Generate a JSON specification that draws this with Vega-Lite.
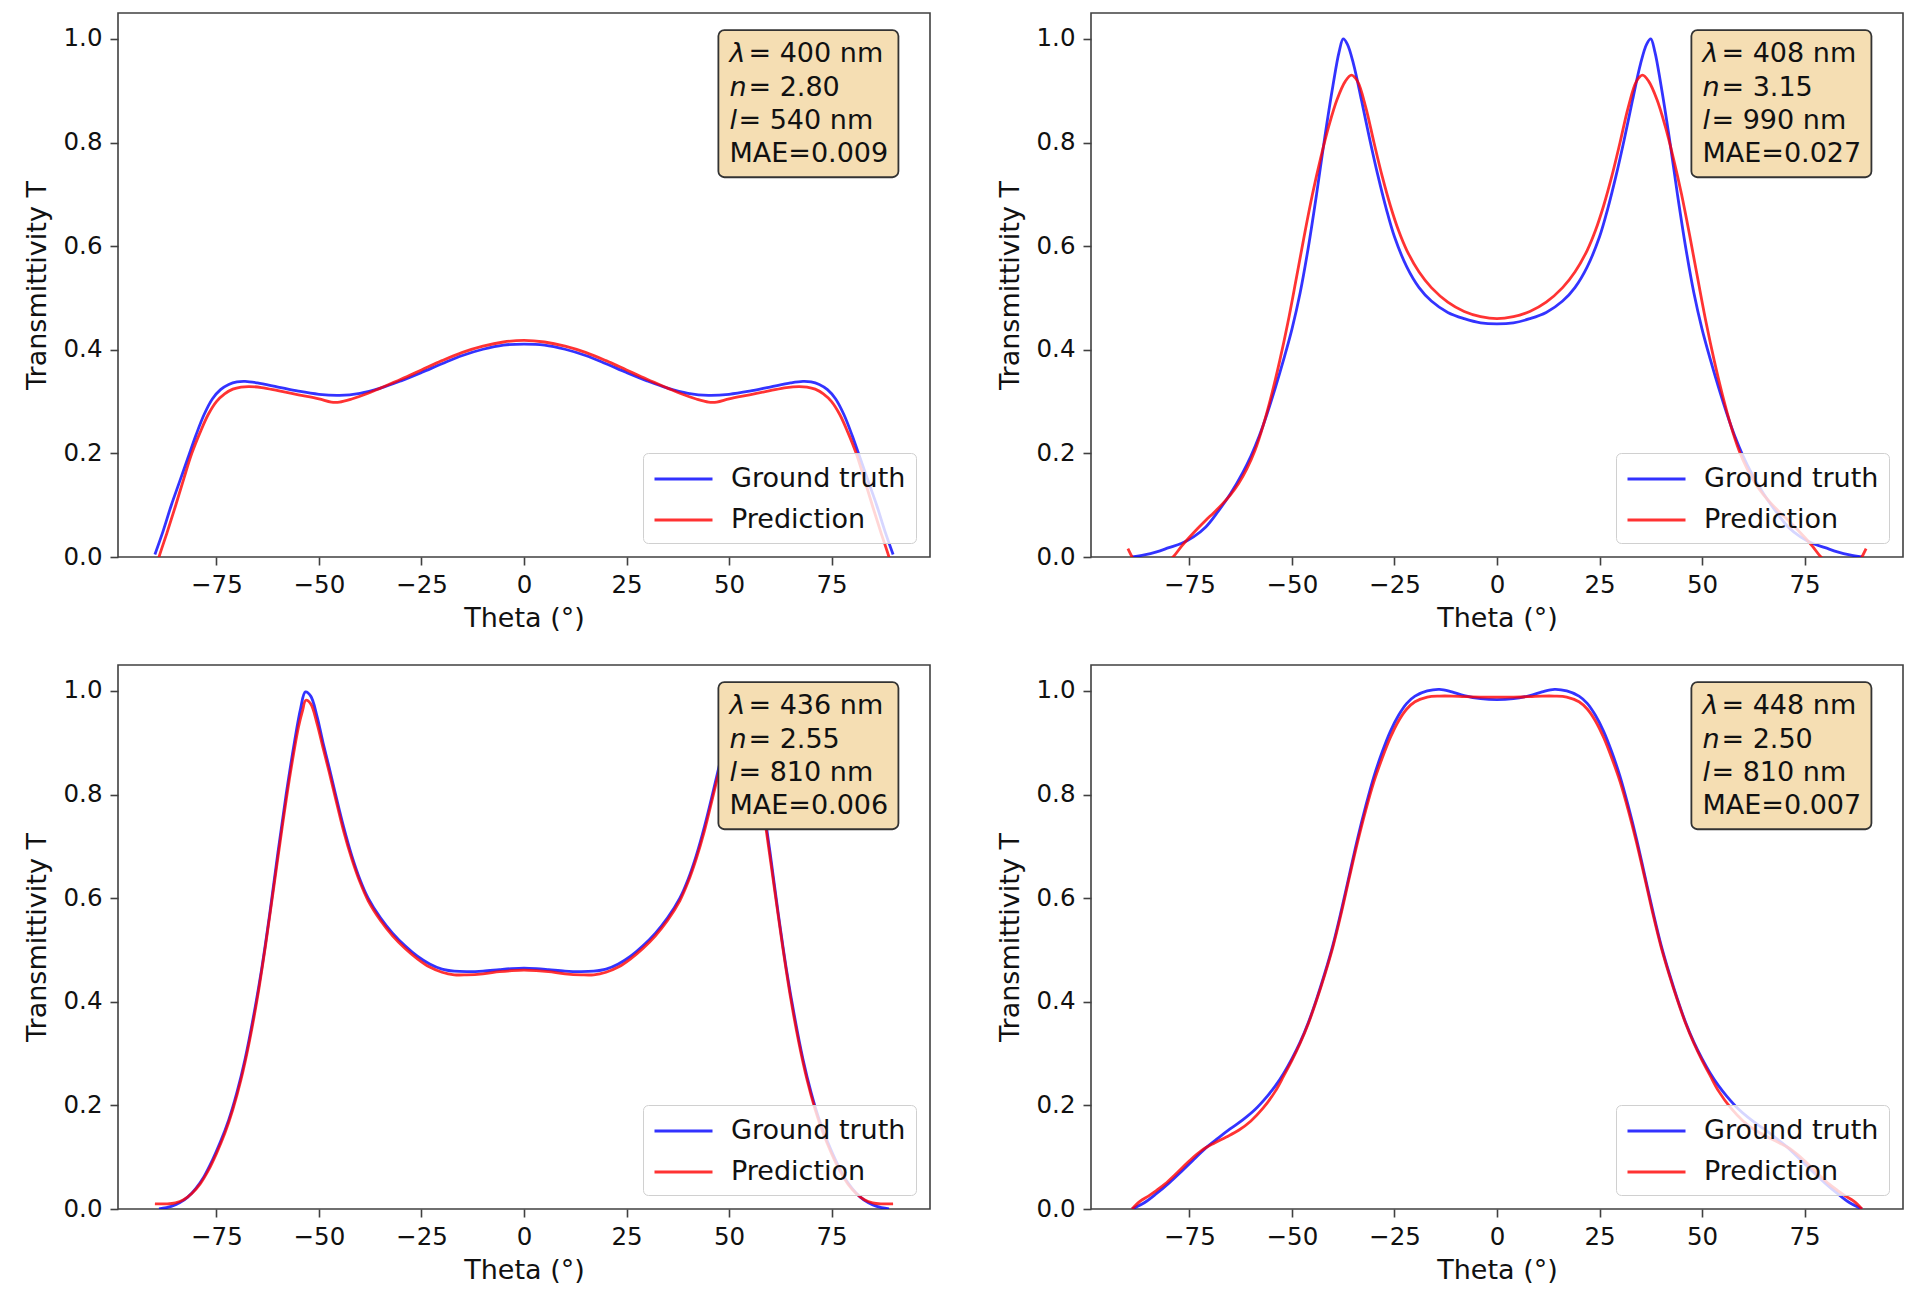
{
  "$schema": "https://vega.github.io/schema/vega-lite/v6.json",
  "background": "white",
  "padding": {"left": 22, "top": 12, "right": 5, "bottom": 5},
  "datasets": {
    "notes": [
      {"panel": 1, "sym": ["λ", "n", "l"], "eq12": ["= 400 nm", "= 2.80"], "eq3": "= 540 nm", "mae": "MAE=0.009"},
      {"panel": 2, "sym": ["λ", "n", "l"], "eq12": ["= 408 nm", "= 3.15"], "eq3": "= 990 nm", "mae": "MAE=0.027"},
      {"panel": 3, "sym": ["λ", "n", "l"], "eq12": ["= 436 nm", "= 2.55"], "eq3": "= 810 nm", "mae": "MAE=0.006"},
      {"panel": 4, "sym": ["λ", "n", "l"], "eq12": ["= 448 nm", "= 2.50"], "eq3": "= 810 nm", "mae": "MAE=0.007"}
    ],
    "curves": [
      {"panel":1,"series":"Ground truth","theta":-90,"T":0.005},
      {"panel":1,"series":"Ground truth","theta":-88,"T":0.05},
      {"panel":1,"series":"Ground truth","theta":-86,"T":0.1},
      {"panel":1,"series":"Ground truth","theta":-84,"T":0.145},
      {"panel":1,"series":"Ground truth","theta":-82,"T":0.19},
      {"panel":1,"series":"Ground truth","theta":-80,"T":0.235},
      {"panel":1,"series":"Ground truth","theta":-78,"T":0.275},
      {"panel":1,"series":"Ground truth","theta":-76,"T":0.305},
      {"panel":1,"series":"Ground truth","theta":-74,"T":0.323},
      {"panel":1,"series":"Ground truth","theta":-72,"T":0.333},
      {"panel":1,"series":"Ground truth","theta":-70,"T":0.338},
      {"panel":1,"series":"Ground truth","theta":-68,"T":0.339},
      {"panel":1,"series":"Ground truth","theta":-65,"T":0.336},
      {"panel":1,"series":"Ground truth","theta":-60,"T":0.328},
      {"panel":1,"series":"Ground truth","theta":-55,"T":0.32},
      {"panel":1,"series":"Ground truth","theta":-50,"T":0.314},
      {"panel":1,"series":"Ground truth","theta":-45,"T":0.312},
      {"panel":1,"series":"Ground truth","theta":-40,"T":0.316},
      {"panel":1,"series":"Ground truth","theta":-35,"T":0.326},
      {"panel":1,"series":"Ground truth","theta":-30,"T":0.34},
      {"panel":1,"series":"Ground truth","theta":-25,"T":0.356},
      {"panel":1,"series":"Ground truth","theta":-20,"T":0.373},
      {"panel":1,"series":"Ground truth","theta":-15,"T":0.389},
      {"panel":1,"series":"Ground truth","theta":-10,"T":0.401},
      {"panel":1,"series":"Ground truth","theta":-5,"T":0.409},
      {"panel":1,"series":"Ground truth","theta":0,"T":0.411},
      {"panel":1,"series":"Ground truth","theta":5,"T":0.409},
      {"panel":1,"series":"Ground truth","theta":10,"T":0.401},
      {"panel":1,"series":"Ground truth","theta":15,"T":0.389},
      {"panel":1,"series":"Ground truth","theta":20,"T":0.373},
      {"panel":1,"series":"Ground truth","theta":25,"T":0.356},
      {"panel":1,"series":"Ground truth","theta":30,"T":0.34},
      {"panel":1,"series":"Ground truth","theta":35,"T":0.326},
      {"panel":1,"series":"Ground truth","theta":40,"T":0.316},
      {"panel":1,"series":"Ground truth","theta":45,"T":0.312},
      {"panel":1,"series":"Ground truth","theta":50,"T":0.314},
      {"panel":1,"series":"Ground truth","theta":55,"T":0.32},
      {"panel":1,"series":"Ground truth","theta":60,"T":0.328},
      {"panel":1,"series":"Ground truth","theta":65,"T":0.336},
      {"panel":1,"series":"Ground truth","theta":68,"T":0.339},
      {"panel":1,"series":"Ground truth","theta":70,"T":0.338},
      {"panel":1,"series":"Ground truth","theta":72,"T":0.333},
      {"panel":1,"series":"Ground truth","theta":74,"T":0.323},
      {"panel":1,"series":"Ground truth","theta":76,"T":0.305},
      {"panel":1,"series":"Ground truth","theta":78,"T":0.275},
      {"panel":1,"series":"Ground truth","theta":80,"T":0.235},
      {"panel":1,"series":"Ground truth","theta":82,"T":0.19},
      {"panel":1,"series":"Ground truth","theta":84,"T":0.145},
      {"panel":1,"series":"Ground truth","theta":86,"T":0.1},
      {"panel":1,"series":"Ground truth","theta":88,"T":0.05},
      {"panel":1,"series":"Ground truth","theta":90,"T":0.005},

      {"panel":1,"series":"Prediction","theta":-90,"T":-0.03},
      {"panel":1,"series":"Prediction","theta":-89,"T":0.0},
      {"panel":1,"series":"Prediction","theta":-87,"T":0.048},
      {"panel":1,"series":"Prediction","theta":-85,"T":0.098},
      {"panel":1,"series":"Prediction","theta":-83,"T":0.15},
      {"panel":1,"series":"Prediction","theta":-81,"T":0.2},
      {"panel":1,"series":"Prediction","theta":-79,"T":0.24},
      {"panel":1,"series":"Prediction","theta":-77,"T":0.275},
      {"panel":1,"series":"Prediction","theta":-75,"T":0.3},
      {"panel":1,"series":"Prediction","theta":-73,"T":0.315},
      {"panel":1,"series":"Prediction","theta":-71,"T":0.324},
      {"panel":1,"series":"Prediction","theta":-69,"T":0.328},
      {"panel":1,"series":"Prediction","theta":-67,"T":0.329},
      {"panel":1,"series":"Prediction","theta":-64,"T":0.327},
      {"panel":1,"series":"Prediction","theta":-60,"T":0.321},
      {"panel":1,"series":"Prediction","theta":-55,"T":0.313},
      {"panel":1,"series":"Prediction","theta":-50,"T":0.305},
      {"panel":1,"series":"Prediction","theta":-47,"T":0.299},
      {"panel":1,"series":"Prediction","theta":-45,"T":0.299},
      {"panel":1,"series":"Prediction","theta":-42,"T":0.305},
      {"panel":1,"series":"Prediction","theta":-38,"T":0.316},
      {"panel":1,"series":"Prediction","theta":-35,"T":0.326},
      {"panel":1,"series":"Prediction","theta":-30,"T":0.343},
      {"panel":1,"series":"Prediction","theta":-25,"T":0.361},
      {"panel":1,"series":"Prediction","theta":-20,"T":0.379},
      {"panel":1,"series":"Prediction","theta":-15,"T":0.395},
      {"panel":1,"series":"Prediction","theta":-10,"T":0.407},
      {"panel":1,"series":"Prediction","theta":-5,"T":0.415},
      {"panel":1,"series":"Prediction","theta":0,"T":0.418},
      {"panel":1,"series":"Prediction","theta":5,"T":0.415},
      {"panel":1,"series":"Prediction","theta":10,"T":0.407},
      {"panel":1,"series":"Prediction","theta":15,"T":0.395},
      {"panel":1,"series":"Prediction","theta":20,"T":0.379},
      {"panel":1,"series":"Prediction","theta":25,"T":0.361},
      {"panel":1,"series":"Prediction","theta":30,"T":0.343},
      {"panel":1,"series":"Prediction","theta":35,"T":0.326},
      {"panel":1,"series":"Prediction","theta":38,"T":0.316},
      {"panel":1,"series":"Prediction","theta":42,"T":0.305},
      {"panel":1,"series":"Prediction","theta":45,"T":0.299},
      {"panel":1,"series":"Prediction","theta":47,"T":0.299},
      {"panel":1,"series":"Prediction","theta":50,"T":0.305},
      {"panel":1,"series":"Prediction","theta":55,"T":0.313},
      {"panel":1,"series":"Prediction","theta":60,"T":0.321},
      {"panel":1,"series":"Prediction","theta":64,"T":0.327},
      {"panel":1,"series":"Prediction","theta":67,"T":0.329},
      {"panel":1,"series":"Prediction","theta":69,"T":0.328},
      {"panel":1,"series":"Prediction","theta":71,"T":0.324},
      {"panel":1,"series":"Prediction","theta":73,"T":0.315},
      {"panel":1,"series":"Prediction","theta":75,"T":0.3},
      {"panel":1,"series":"Prediction","theta":77,"T":0.275},
      {"panel":1,"series":"Prediction","theta":79,"T":0.24},
      {"panel":1,"series":"Prediction","theta":81,"T":0.2},
      {"panel":1,"series":"Prediction","theta":83,"T":0.15},
      {"panel":1,"series":"Prediction","theta":85,"T":0.098},
      {"panel":1,"series":"Prediction","theta":87,"T":0.048},
      {"panel":1,"series":"Prediction","theta":89,"T":0.0},
      {"panel":1,"series":"Prediction","theta":90,"T":-0.03},

      {"panel":2,"series":"Ground truth","theta":-89,"T":0.0},
      {"panel":2,"series":"Ground truth","theta":-86,"T":0.004},
      {"panel":2,"series":"Ground truth","theta":-83,"T":0.01},
      {"panel":2,"series":"Ground truth","theta":-80,"T":0.018},
      {"panel":2,"series":"Ground truth","theta":-77,"T":0.026},
      {"panel":2,"series":"Ground truth","theta":-74,"T":0.039},
      {"panel":2,"series":"Ground truth","theta":-71,"T":0.058},
      {"panel":2,"series":"Ground truth","theta":-68,"T":0.088},
      {"panel":2,"series":"Ground truth","theta":-65,"T":0.122},
      {"panel":2,"series":"Ground truth","theta":-62,"T":0.163},
      {"panel":2,"series":"Ground truth","theta":-60,"T":0.195},
      {"panel":2,"series":"Ground truth","theta":-58,"T":0.233},
      {"panel":2,"series":"Ground truth","theta":-56,"T":0.278},
      {"panel":2,"series":"Ground truth","theta":-54,"T":0.328},
      {"panel":2,"series":"Ground truth","theta":-52,"T":0.382},
      {"panel":2,"series":"Ground truth","theta":-50,"T":0.44},
      {"panel":2,"series":"Ground truth","theta":-48,"T":0.51},
      {"panel":2,"series":"Ground truth","theta":-46,"T":0.598},
      {"panel":2,"series":"Ground truth","theta":-44,"T":0.7},
      {"panel":2,"series":"Ground truth","theta":-42,"T":0.81},
      {"panel":2,"series":"Ground truth","theta":-40,"T":0.91},
      {"panel":2,"series":"Ground truth","theta":-38.5,"T":0.975},
      {"panel":2,"series":"Ground truth","theta":-37.5,"T":1.0},
      {"panel":2,"series":"Ground truth","theta":-36.5,"T":0.99},
      {"panel":2,"series":"Ground truth","theta":-35,"T":0.952},
      {"panel":2,"series":"Ground truth","theta":-33,"T":0.88},
      {"panel":2,"series":"Ground truth","theta":-31,"T":0.805},
      {"panel":2,"series":"Ground truth","theta":-29,"T":0.735},
      {"panel":2,"series":"Ground truth","theta":-27,"T":0.672},
      {"panel":2,"series":"Ground truth","theta":-25,"T":0.618},
      {"panel":2,"series":"Ground truth","theta":-22,"T":0.56},
      {"panel":2,"series":"Ground truth","theta":-19,"T":0.52},
      {"panel":2,"series":"Ground truth","theta":-16,"T":0.494},
      {"panel":2,"series":"Ground truth","theta":-12,"T":0.472},
      {"panel":2,"series":"Ground truth","theta":-8,"T":0.46},
      {"panel":2,"series":"Ground truth","theta":-4,"T":0.452},
      {"panel":2,"series":"Ground truth","theta":0,"T":0.45},
      {"panel":2,"series":"Ground truth","theta":4,"T":0.452},
      {"panel":2,"series":"Ground truth","theta":8,"T":0.46},
      {"panel":2,"series":"Ground truth","theta":12,"T":0.472},
      {"panel":2,"series":"Ground truth","theta":16,"T":0.494},
      {"panel":2,"series":"Ground truth","theta":19,"T":0.52},
      {"panel":2,"series":"Ground truth","theta":22,"T":0.56},
      {"panel":2,"series":"Ground truth","theta":25,"T":0.618},
      {"panel":2,"series":"Ground truth","theta":27,"T":0.672},
      {"panel":2,"series":"Ground truth","theta":29,"T":0.735},
      {"panel":2,"series":"Ground truth","theta":31,"T":0.805},
      {"panel":2,"series":"Ground truth","theta":33,"T":0.88},
      {"panel":2,"series":"Ground truth","theta":35,"T":0.952},
      {"panel":2,"series":"Ground truth","theta":36.5,"T":0.99},
      {"panel":2,"series":"Ground truth","theta":37.5,"T":1.0},
      {"panel":2,"series":"Ground truth","theta":38.5,"T":0.975},
      {"panel":2,"series":"Ground truth","theta":40,"T":0.91},
      {"panel":2,"series":"Ground truth","theta":42,"T":0.81},
      {"panel":2,"series":"Ground truth","theta":44,"T":0.7},
      {"panel":2,"series":"Ground truth","theta":46,"T":0.598},
      {"panel":2,"series":"Ground truth","theta":48,"T":0.51},
      {"panel":2,"series":"Ground truth","theta":50,"T":0.44},
      {"panel":2,"series":"Ground truth","theta":52,"T":0.382},
      {"panel":2,"series":"Ground truth","theta":54,"T":0.328},
      {"panel":2,"series":"Ground truth","theta":56,"T":0.278},
      {"panel":2,"series":"Ground truth","theta":58,"T":0.233},
      {"panel":2,"series":"Ground truth","theta":60,"T":0.195},
      {"panel":2,"series":"Ground truth","theta":62,"T":0.163},
      {"panel":2,"series":"Ground truth","theta":65,"T":0.122},
      {"panel":2,"series":"Ground truth","theta":68,"T":0.088},
      {"panel":2,"series":"Ground truth","theta":71,"T":0.058},
      {"panel":2,"series":"Ground truth","theta":74,"T":0.039},
      {"panel":2,"series":"Ground truth","theta":77,"T":0.026},
      {"panel":2,"series":"Ground truth","theta":80,"T":0.018},
      {"panel":2,"series":"Ground truth","theta":83,"T":0.01},
      {"panel":2,"series":"Ground truth","theta":86,"T":0.004},
      {"panel":2,"series":"Ground truth","theta":89,"T":0.0},

      {"panel":2,"series":"Prediction","theta":-90,"T":0.016},
      {"panel":2,"series":"Prediction","theta":-89,"T":0.0},
      {"panel":2,"series":"Prediction","theta":-88,"T":-0.015},
      {"panel":2,"series":"Prediction","theta":-85,"T":-0.03},
      {"panel":2,"series":"Prediction","theta":-82,"T":-0.02},
      {"panel":2,"series":"Prediction","theta":-79,"T":0.0},
      {"panel":2,"series":"Prediction","theta":-77,"T":0.02},
      {"panel":2,"series":"Prediction","theta":-75,"T":0.038},
      {"panel":2,"series":"Prediction","theta":-73,"T":0.055},
      {"panel":2,"series":"Prediction","theta":-71,"T":0.071},
      {"panel":2,"series":"Prediction","theta":-69,"T":0.086},
      {"panel":2,"series":"Prediction","theta":-67,"T":0.102},
      {"panel":2,"series":"Prediction","theta":-65,"T":0.12},
      {"panel":2,"series":"Prediction","theta":-63,"T":0.142},
      {"panel":2,"series":"Prediction","theta":-61,"T":0.17},
      {"panel":2,"series":"Prediction","theta":-59,"T":0.206},
      {"panel":2,"series":"Prediction","theta":-57,"T":0.254},
      {"panel":2,"series":"Prediction","theta":-55,"T":0.312},
      {"panel":2,"series":"Prediction","theta":-53,"T":0.378},
      {"panel":2,"series":"Prediction","theta":-51,"T":0.452},
      {"panel":2,"series":"Prediction","theta":-49,"T":0.535},
      {"panel":2,"series":"Prediction","theta":-47,"T":0.62},
      {"panel":2,"series":"Prediction","theta":-45,"T":0.7},
      {"panel":2,"series":"Prediction","theta":-43,"T":0.77},
      {"panel":2,"series":"Prediction","theta":-41,"T":0.832},
      {"panel":2,"series":"Prediction","theta":-39,"T":0.883},
      {"panel":2,"series":"Prediction","theta":-37,"T":0.918},
      {"panel":2,"series":"Prediction","theta":-35.5,"T":0.93},
      {"panel":2,"series":"Prediction","theta":-34,"T":0.918},
      {"panel":2,"series":"Prediction","theta":-32,"T":0.868},
      {"panel":2,"series":"Prediction","theta":-30,"T":0.8},
      {"panel":2,"series":"Prediction","theta":-28,"T":0.735},
      {"panel":2,"series":"Prediction","theta":-26,"T":0.678},
      {"panel":2,"series":"Prediction","theta":-24,"T":0.63},
      {"panel":2,"series":"Prediction","theta":-22,"T":0.592},
      {"panel":2,"series":"Prediction","theta":-19,"T":0.55},
      {"panel":2,"series":"Prediction","theta":-16,"T":0.52},
      {"panel":2,"series":"Prediction","theta":-12,"T":0.492},
      {"panel":2,"series":"Prediction","theta":-8,"T":0.474},
      {"panel":2,"series":"Prediction","theta":-4,"T":0.464},
      {"panel":2,"series":"Prediction","theta":0,"T":0.46},
      {"panel":2,"series":"Prediction","theta":4,"T":0.464},
      {"panel":2,"series":"Prediction","theta":8,"T":0.474},
      {"panel":2,"series":"Prediction","theta":12,"T":0.492},
      {"panel":2,"series":"Prediction","theta":16,"T":0.52},
      {"panel":2,"series":"Prediction","theta":19,"T":0.55},
      {"panel":2,"series":"Prediction","theta":22,"T":0.592},
      {"panel":2,"series":"Prediction","theta":24,"T":0.63},
      {"panel":2,"series":"Prediction","theta":26,"T":0.678},
      {"panel":2,"series":"Prediction","theta":28,"T":0.735},
      {"panel":2,"series":"Prediction","theta":30,"T":0.8},
      {"panel":2,"series":"Prediction","theta":32,"T":0.868},
      {"panel":2,"series":"Prediction","theta":34,"T":0.918},
      {"panel":2,"series":"Prediction","theta":35.5,"T":0.93},
      {"panel":2,"series":"Prediction","theta":37,"T":0.918},
      {"panel":2,"series":"Prediction","theta":39,"T":0.883},
      {"panel":2,"series":"Prediction","theta":41,"T":0.832},
      {"panel":2,"series":"Prediction","theta":43,"T":0.77},
      {"panel":2,"series":"Prediction","theta":45,"T":0.7},
      {"panel":2,"series":"Prediction","theta":47,"T":0.62},
      {"panel":2,"series":"Prediction","theta":49,"T":0.535},
      {"panel":2,"series":"Prediction","theta":51,"T":0.452},
      {"panel":2,"series":"Prediction","theta":53,"T":0.378},
      {"panel":2,"series":"Prediction","theta":55,"T":0.312},
      {"panel":2,"series":"Prediction","theta":57,"T":0.254},
      {"panel":2,"series":"Prediction","theta":59,"T":0.206},
      {"panel":2,"series":"Prediction","theta":61,"T":0.17},
      {"panel":2,"series":"Prediction","theta":63,"T":0.142},
      {"panel":2,"series":"Prediction","theta":65,"T":0.12},
      {"panel":2,"series":"Prediction","theta":67,"T":0.102},
      {"panel":2,"series":"Prediction","theta":69,"T":0.086},
      {"panel":2,"series":"Prediction","theta":71,"T":0.071},
      {"panel":2,"series":"Prediction","theta":73,"T":0.055},
      {"panel":2,"series":"Prediction","theta":75,"T":0.038},
      {"panel":2,"series":"Prediction","theta":77,"T":0.02},
      {"panel":2,"series":"Prediction","theta":79,"T":0.0},
      {"panel":2,"series":"Prediction","theta":82,"T":-0.02},
      {"panel":2,"series":"Prediction","theta":85,"T":-0.03},
      {"panel":2,"series":"Prediction","theta":88,"T":-0.015},
      {"panel":2,"series":"Prediction","theta":89,"T":0.0},
      {"panel":2,"series":"Prediction","theta":90,"T":0.016},

      {"panel":3,"series":"Ground truth","theta":-89,"T":0.0},
      {"panel":3,"series":"Ground truth","theta":-86,"T":0.005},
      {"panel":3,"series":"Ground truth","theta":-84,"T":0.012},
      {"panel":3,"series":"Ground truth","theta":-82,"T":0.023},
      {"panel":3,"series":"Ground truth","theta":-80,"T":0.04},
      {"panel":3,"series":"Ground truth","theta":-78,"T":0.063},
      {"panel":3,"series":"Ground truth","theta":-76,"T":0.094},
      {"panel":3,"series":"Ground truth","theta":-74,"T":0.13},
      {"panel":3,"series":"Ground truth","theta":-72,"T":0.172},
      {"panel":3,"series":"Ground truth","theta":-70,"T":0.225},
      {"panel":3,"series":"Ground truth","theta":-68,"T":0.29},
      {"panel":3,"series":"Ground truth","theta":-66,"T":0.37},
      {"panel":3,"series":"Ground truth","theta":-64,"T":0.462},
      {"panel":3,"series":"Ground truth","theta":-62,"T":0.57},
      {"panel":3,"series":"Ground truth","theta":-60,"T":0.688},
      {"panel":3,"series":"Ground truth","theta":-58,"T":0.8},
      {"panel":3,"series":"Ground truth","theta":-56,"T":0.9},
      {"panel":3,"series":"Ground truth","theta":-54.5,"T":0.965},
      {"panel":3,"series":"Ground truth","theta":-53.3,"T":0.998},
      {"panel":3,"series":"Ground truth","theta":-52,"T":0.99},
      {"panel":3,"series":"Ground truth","theta":-50.5,"T":0.952},
      {"panel":3,"series":"Ground truth","theta":-49,"T":0.9},
      {"panel":3,"series":"Ground truth","theta":-47.5,"T":0.852},
      {"panel":3,"series":"Ground truth","theta":-46,"T":0.802},
      {"panel":3,"series":"Ground truth","theta":-44,"T":0.738},
      {"panel":3,"series":"Ground truth","theta":-42,"T":0.682},
      {"panel":3,"series":"Ground truth","theta":-40,"T":0.636},
      {"panel":3,"series":"Ground truth","theta":-38,"T":0.6},
      {"panel":3,"series":"Ground truth","theta":-35,"T":0.562},
      {"panel":3,"series":"Ground truth","theta":-32,"T":0.532},
      {"panel":3,"series":"Ground truth","theta":-29,"T":0.508},
      {"panel":3,"series":"Ground truth","theta":-26,"T":0.488},
      {"panel":3,"series":"Ground truth","theta":-23,"T":0.473},
      {"panel":3,"series":"Ground truth","theta":-20,"T":0.463},
      {"panel":3,"series":"Ground truth","theta":-17,"T":0.459},
      {"panel":3,"series":"Ground truth","theta":-14,"T":0.458},
      {"panel":3,"series":"Ground truth","theta":-10,"T":0.459},
      {"panel":3,"series":"Ground truth","theta":-6,"T":0.462},
      {"panel":3,"series":"Ground truth","theta":-3,"T":0.464},
      {"panel":3,"series":"Ground truth","theta":0,"T":0.465},
      {"panel":3,"series":"Ground truth","theta":3,"T":0.464},
      {"panel":3,"series":"Ground truth","theta":6,"T":0.462},
      {"panel":3,"series":"Ground truth","theta":10,"T":0.459},
      {"panel":3,"series":"Ground truth","theta":14,"T":0.458},
      {"panel":3,"series":"Ground truth","theta":17,"T":0.459},
      {"panel":3,"series":"Ground truth","theta":20,"T":0.463},
      {"panel":3,"series":"Ground truth","theta":23,"T":0.473},
      {"panel":3,"series":"Ground truth","theta":26,"T":0.488},
      {"panel":3,"series":"Ground truth","theta":29,"T":0.508},
      {"panel":3,"series":"Ground truth","theta":32,"T":0.532},
      {"panel":3,"series":"Ground truth","theta":35,"T":0.562},
      {"panel":3,"series":"Ground truth","theta":38,"T":0.6},
      {"panel":3,"series":"Ground truth","theta":40,"T":0.636},
      {"panel":3,"series":"Ground truth","theta":42,"T":0.682},
      {"panel":3,"series":"Ground truth","theta":44,"T":0.738},
      {"panel":3,"series":"Ground truth","theta":46,"T":0.802},
      {"panel":3,"series":"Ground truth","theta":47.5,"T":0.852},
      {"panel":3,"series":"Ground truth","theta":49,"T":0.9},
      {"panel":3,"series":"Ground truth","theta":50.5,"T":0.952},
      {"panel":3,"series":"Ground truth","theta":52,"T":0.99},
      {"panel":3,"series":"Ground truth","theta":53.3,"T":0.998},
      {"panel":3,"series":"Ground truth","theta":54.5,"T":0.965},
      {"panel":3,"series":"Ground truth","theta":56,"T":0.9},
      {"panel":3,"series":"Ground truth","theta":58,"T":0.8},
      {"panel":3,"series":"Ground truth","theta":60,"T":0.688},
      {"panel":3,"series":"Ground truth","theta":62,"T":0.57},
      {"panel":3,"series":"Ground truth","theta":64,"T":0.462},
      {"panel":3,"series":"Ground truth","theta":66,"T":0.37},
      {"panel":3,"series":"Ground truth","theta":68,"T":0.29},
      {"panel":3,"series":"Ground truth","theta":70,"T":0.225},
      {"panel":3,"series":"Ground truth","theta":72,"T":0.172},
      {"panel":3,"series":"Ground truth","theta":74,"T":0.13},
      {"panel":3,"series":"Ground truth","theta":76,"T":0.094},
      {"panel":3,"series":"Ground truth","theta":78,"T":0.063},
      {"panel":3,"series":"Ground truth","theta":80,"T":0.04},
      {"panel":3,"series":"Ground truth","theta":82,"T":0.023},
      {"panel":3,"series":"Ground truth","theta":84,"T":0.012},
      {"panel":3,"series":"Ground truth","theta":86,"T":0.005},
      {"panel":3,"series":"Ground truth","theta":89,"T":0.0},

      {"panel":3,"series":"Prediction","theta":-90,"T":0.01},
      {"panel":3,"series":"Prediction","theta":-87,"T":0.01},
      {"panel":3,"series":"Prediction","theta":-85,"T":0.012},
      {"panel":3,"series":"Prediction","theta":-83,"T":0.018},
      {"panel":3,"series":"Prediction","theta":-81,"T":0.03},
      {"panel":3,"series":"Prediction","theta":-79,"T":0.048},
      {"panel":3,"series":"Prediction","theta":-77,"T":0.074},
      {"panel":3,"series":"Prediction","theta":-75,"T":0.107},
      {"panel":3,"series":"Prediction","theta":-73,"T":0.145},
      {"panel":3,"series":"Prediction","theta":-71,"T":0.192},
      {"panel":3,"series":"Prediction","theta":-69,"T":0.25},
      {"panel":3,"series":"Prediction","theta":-67,"T":0.322},
      {"panel":3,"series":"Prediction","theta":-65,"T":0.408},
      {"panel":3,"series":"Prediction","theta":-63,"T":0.51},
      {"panel":3,"series":"Prediction","theta":-61,"T":0.622},
      {"panel":3,"series":"Prediction","theta":-59,"T":0.735},
      {"panel":3,"series":"Prediction","theta":-57,"T":0.84},
      {"panel":3,"series":"Prediction","theta":-55,"T":0.93},
      {"panel":3,"series":"Prediction","theta":-54,"T":0.962},
      {"panel":3,"series":"Prediction","theta":-53.2,"T":0.982},
      {"panel":3,"series":"Prediction","theta":-52,"T":0.975},
      {"panel":3,"series":"Prediction","theta":-50.5,"T":0.938},
      {"panel":3,"series":"Prediction","theta":-49,"T":0.89},
      {"panel":3,"series":"Prediction","theta":-47.5,"T":0.843},
      {"panel":3,"series":"Prediction","theta":-46,"T":0.794},
      {"panel":3,"series":"Prediction","theta":-44,"T":0.73},
      {"panel":3,"series":"Prediction","theta":-42,"T":0.676},
      {"panel":3,"series":"Prediction","theta":-40,"T":0.631},
      {"panel":3,"series":"Prediction","theta":-38,"T":0.595},
      {"panel":3,"series":"Prediction","theta":-35,"T":0.557},
      {"panel":3,"series":"Prediction","theta":-32,"T":0.527},
      {"panel":3,"series":"Prediction","theta":-29,"T":0.503},
      {"panel":3,"series":"Prediction","theta":-26,"T":0.483},
      {"panel":3,"series":"Prediction","theta":-23,"T":0.467},
      {"panel":3,"series":"Prediction","theta":-20,"T":0.457},
      {"panel":3,"series":"Prediction","theta":-17,"T":0.452},
      {"panel":3,"series":"Prediction","theta":-14,"T":0.452},
      {"panel":3,"series":"Prediction","theta":-10,"T":0.454},
      {"panel":3,"series":"Prediction","theta":-6,"T":0.458},
      {"panel":3,"series":"Prediction","theta":-3,"T":0.46},
      {"panel":3,"series":"Prediction","theta":0,"T":0.461},
      {"panel":3,"series":"Prediction","theta":3,"T":0.46},
      {"panel":3,"series":"Prediction","theta":6,"T":0.458},
      {"panel":3,"series":"Prediction","theta":10,"T":0.454},
      {"panel":3,"series":"Prediction","theta":14,"T":0.452},
      {"panel":3,"series":"Prediction","theta":17,"T":0.452},
      {"panel":3,"series":"Prediction","theta":20,"T":0.457},
      {"panel":3,"series":"Prediction","theta":23,"T":0.467},
      {"panel":3,"series":"Prediction","theta":26,"T":0.483},
      {"panel":3,"series":"Prediction","theta":29,"T":0.503},
      {"panel":3,"series":"Prediction","theta":32,"T":0.527},
      {"panel":3,"series":"Prediction","theta":35,"T":0.557},
      {"panel":3,"series":"Prediction","theta":38,"T":0.595},
      {"panel":3,"series":"Prediction","theta":40,"T":0.631},
      {"panel":3,"series":"Prediction","theta":42,"T":0.676},
      {"panel":3,"series":"Prediction","theta":44,"T":0.73},
      {"panel":3,"series":"Prediction","theta":46,"T":0.794},
      {"panel":3,"series":"Prediction","theta":47.5,"T":0.843},
      {"panel":3,"series":"Prediction","theta":49,"T":0.89},
      {"panel":3,"series":"Prediction","theta":50.5,"T":0.938},
      {"panel":3,"series":"Prediction","theta":52,"T":0.975},
      {"panel":3,"series":"Prediction","theta":53.2,"T":0.982},
      {"panel":3,"series":"Prediction","theta":54,"T":0.962},
      {"panel":3,"series":"Prediction","theta":55,"T":0.93},
      {"panel":3,"series":"Prediction","theta":57,"T":0.84},
      {"panel":3,"series":"Prediction","theta":59,"T":0.735},
      {"panel":3,"series":"Prediction","theta":61,"T":0.622},
      {"panel":3,"series":"Prediction","theta":63,"T":0.51},
      {"panel":3,"series":"Prediction","theta":65,"T":0.408},
      {"panel":3,"series":"Prediction","theta":67,"T":0.322},
      {"panel":3,"series":"Prediction","theta":69,"T":0.25},
      {"panel":3,"series":"Prediction","theta":71,"T":0.192},
      {"panel":3,"series":"Prediction","theta":73,"T":0.145},
      {"panel":3,"series":"Prediction","theta":75,"T":0.107},
      {"panel":3,"series":"Prediction","theta":77,"T":0.074},
      {"panel":3,"series":"Prediction","theta":79,"T":0.048},
      {"panel":3,"series":"Prediction","theta":81,"T":0.03},
      {"panel":3,"series":"Prediction","theta":83,"T":0.018},
      {"panel":3,"series":"Prediction","theta":85,"T":0.012},
      {"panel":3,"series":"Prediction","theta":87,"T":0.01},
      {"panel":3,"series":"Prediction","theta":90,"T":0.01},

      {"panel":4,"series":"Ground truth","theta":-89,"T":0.0},
      {"panel":4,"series":"Ground truth","theta":-86,"T":0.012},
      {"panel":4,"series":"Ground truth","theta":-83,"T":0.03},
      {"panel":4,"series":"Ground truth","theta":-80,"T":0.05},
      {"panel":4,"series":"Ground truth","theta":-77,"T":0.072},
      {"panel":4,"series":"Ground truth","theta":-74,"T":0.095},
      {"panel":4,"series":"Ground truth","theta":-71,"T":0.118},
      {"panel":4,"series":"Ground truth","theta":-68,"T":0.137},
      {"panel":4,"series":"Ground truth","theta":-65,"T":0.155},
      {"panel":4,"series":"Ground truth","theta":-62,"T":0.172},
      {"panel":4,"series":"Ground truth","theta":-59,"T":0.192},
      {"panel":4,"series":"Ground truth","theta":-56,"T":0.218},
      {"panel":4,"series":"Ground truth","theta":-54,"T":0.238},
      {"panel":4,"series":"Ground truth","theta":-52,"T":0.262},
      {"panel":4,"series":"Ground truth","theta":-50,"T":0.29},
      {"panel":4,"series":"Ground truth","theta":-48,"T":0.322},
      {"panel":4,"series":"Ground truth","theta":-46,"T":0.36},
      {"panel":4,"series":"Ground truth","theta":-44,"T":0.405},
      {"panel":4,"series":"Ground truth","theta":-42,"T":0.455},
      {"panel":4,"series":"Ground truth","theta":-40,"T":0.51},
      {"panel":4,"series":"Ground truth","theta":-38,"T":0.575},
      {"panel":4,"series":"Ground truth","theta":-36,"T":0.645},
      {"panel":4,"series":"Ground truth","theta":-34,"T":0.715},
      {"panel":4,"series":"Ground truth","theta":-32,"T":0.778},
      {"panel":4,"series":"Ground truth","theta":-30,"T":0.835},
      {"panel":4,"series":"Ground truth","theta":-28,"T":0.882},
      {"panel":4,"series":"Ground truth","theta":-26,"T":0.922},
      {"panel":4,"series":"Ground truth","theta":-24,"T":0.953},
      {"panel":4,"series":"Ground truth","theta":-22,"T":0.976},
      {"panel":4,"series":"Ground truth","theta":-20,"T":0.99},
      {"panel":4,"series":"Ground truth","theta":-17,"T":1.0},
      {"panel":4,"series":"Ground truth","theta":-14,"T":1.003},
      {"panel":4,"series":"Ground truth","theta":-11,"T":0.998},
      {"panel":4,"series":"Ground truth","theta":-8,"T":0.991},
      {"panel":4,"series":"Ground truth","theta":-4,"T":0.985},
      {"panel":4,"series":"Ground truth","theta":0,"T":0.983},
      {"panel":4,"series":"Ground truth","theta":4,"T":0.985},
      {"panel":4,"series":"Ground truth","theta":8,"T":0.991},
      {"panel":4,"series":"Ground truth","theta":11,"T":0.998},
      {"panel":4,"series":"Ground truth","theta":14,"T":1.003},
      {"panel":4,"series":"Ground truth","theta":17,"T":1.0},
      {"panel":4,"series":"Ground truth","theta":20,"T":0.99},
      {"panel":4,"series":"Ground truth","theta":22,"T":0.976},
      {"panel":4,"series":"Ground truth","theta":24,"T":0.953},
      {"panel":4,"series":"Ground truth","theta":26,"T":0.922},
      {"panel":4,"series":"Ground truth","theta":28,"T":0.882},
      {"panel":4,"series":"Ground truth","theta":30,"T":0.835},
      {"panel":4,"series":"Ground truth","theta":32,"T":0.778},
      {"panel":4,"series":"Ground truth","theta":34,"T":0.715},
      {"panel":4,"series":"Ground truth","theta":36,"T":0.645},
      {"panel":4,"series":"Ground truth","theta":38,"T":0.575},
      {"panel":4,"series":"Ground truth","theta":40,"T":0.51},
      {"panel":4,"series":"Ground truth","theta":42,"T":0.455},
      {"panel":4,"series":"Ground truth","theta":44,"T":0.405},
      {"panel":4,"series":"Ground truth","theta":46,"T":0.36},
      {"panel":4,"series":"Ground truth","theta":48,"T":0.322},
      {"panel":4,"series":"Ground truth","theta":50,"T":0.29},
      {"panel":4,"series":"Ground truth","theta":52,"T":0.262},
      {"panel":4,"series":"Ground truth","theta":54,"T":0.238},
      {"panel":4,"series":"Ground truth","theta":56,"T":0.218},
      {"panel":4,"series":"Ground truth","theta":59,"T":0.192},
      {"panel":4,"series":"Ground truth","theta":62,"T":0.172},
      {"panel":4,"series":"Ground truth","theta":65,"T":0.155},
      {"panel":4,"series":"Ground truth","theta":68,"T":0.137},
      {"panel":4,"series":"Ground truth","theta":71,"T":0.118},
      {"panel":4,"series":"Ground truth","theta":74,"T":0.095},
      {"panel":4,"series":"Ground truth","theta":77,"T":0.072},
      {"panel":4,"series":"Ground truth","theta":80,"T":0.05},
      {"panel":4,"series":"Ground truth","theta":83,"T":0.03},
      {"panel":4,"series":"Ground truth","theta":86,"T":0.012},
      {"panel":4,"series":"Ground truth","theta":89,"T":0.0},

      {"panel":4,"series":"Prediction","theta":-89,"T":0.0},
      {"panel":4,"series":"Prediction","theta":-87,"T":0.015},
      {"panel":4,"series":"Prediction","theta":-85,"T":0.025},
      {"panel":4,"series":"Prediction","theta":-83,"T":0.036},
      {"panel":4,"series":"Prediction","theta":-81,"T":0.048},
      {"panel":4,"series":"Prediction","theta":-78,"T":0.07},
      {"panel":4,"series":"Prediction","theta":-75,"T":0.093},
      {"panel":4,"series":"Prediction","theta":-72,"T":0.113},
      {"panel":4,"series":"Prediction","theta":-69,"T":0.127},
      {"panel":4,"series":"Prediction","theta":-66,"T":0.139},
      {"panel":4,"series":"Prediction","theta":-63,"T":0.152},
      {"panel":4,"series":"Prediction","theta":-60,"T":0.17},
      {"panel":4,"series":"Prediction","theta":-57,"T":0.195},
      {"panel":4,"series":"Prediction","theta":-54,"T":0.228},
      {"panel":4,"series":"Prediction","theta":-52,"T":0.257},
      {"panel":4,"series":"Prediction","theta":-50,"T":0.287},
      {"panel":4,"series":"Prediction","theta":-48,"T":0.32},
      {"panel":4,"series":"Prediction","theta":-46,"T":0.358},
      {"panel":4,"series":"Prediction","theta":-44,"T":0.403},
      {"panel":4,"series":"Prediction","theta":-42,"T":0.452},
      {"panel":4,"series":"Prediction","theta":-40,"T":0.506},
      {"panel":4,"series":"Prediction","theta":-38,"T":0.57},
      {"panel":4,"series":"Prediction","theta":-36,"T":0.64},
      {"panel":4,"series":"Prediction","theta":-34,"T":0.708},
      {"panel":4,"series":"Prediction","theta":-32,"T":0.77},
      {"panel":4,"series":"Prediction","theta":-30,"T":0.825},
      {"panel":4,"series":"Prediction","theta":-28,"T":0.87},
      {"panel":4,"series":"Prediction","theta":-26,"T":0.91},
      {"panel":4,"series":"Prediction","theta":-24,"T":0.942},
      {"panel":4,"series":"Prediction","theta":-22,"T":0.965},
      {"panel":4,"series":"Prediction","theta":-20,"T":0.979},
      {"panel":4,"series":"Prediction","theta":-17,"T":0.988},
      {"panel":4,"series":"Prediction","theta":-14,"T":0.99},
      {"panel":4,"series":"Prediction","theta":-11,"T":0.99},
      {"panel":4,"series":"Prediction","theta":-8,"T":0.989},
      {"panel":4,"series":"Prediction","theta":-4,"T":0.988},
      {"panel":4,"series":"Prediction","theta":0,"T":0.988},
      {"panel":4,"series":"Prediction","theta":4,"T":0.988},
      {"panel":4,"series":"Prediction","theta":8,"T":0.989},
      {"panel":4,"series":"Prediction","theta":11,"T":0.99},
      {"panel":4,"series":"Prediction","theta":14,"T":0.99},
      {"panel":4,"series":"Prediction","theta":17,"T":0.988},
      {"panel":4,"series":"Prediction","theta":20,"T":0.979},
      {"panel":4,"series":"Prediction","theta":22,"T":0.965},
      {"panel":4,"series":"Prediction","theta":24,"T":0.942},
      {"panel":4,"series":"Prediction","theta":26,"T":0.91},
      {"panel":4,"series":"Prediction","theta":28,"T":0.87},
      {"panel":4,"series":"Prediction","theta":30,"T":0.825},
      {"panel":4,"series":"Prediction","theta":32,"T":0.77},
      {"panel":4,"series":"Prediction","theta":34,"T":0.708},
      {"panel":4,"series":"Prediction","theta":36,"T":0.64},
      {"panel":4,"series":"Prediction","theta":38,"T":0.57},
      {"panel":4,"series":"Prediction","theta":40,"T":0.506},
      {"panel":4,"series":"Prediction","theta":42,"T":0.452},
      {"panel":4,"series":"Prediction","theta":44,"T":0.403},
      {"panel":4,"series":"Prediction","theta":46,"T":0.358},
      {"panel":4,"series":"Prediction","theta":48,"T":0.32},
      {"panel":4,"series":"Prediction","theta":50,"T":0.287},
      {"panel":4,"series":"Prediction","theta":52,"T":0.257},
      {"panel":4,"series":"Prediction","theta":54,"T":0.228},
      {"panel":4,"series":"Prediction","theta":57,"T":0.195},
      {"panel":4,"series":"Prediction","theta":60,"T":0.17},
      {"panel":4,"series":"Prediction","theta":63,"T":0.152},
      {"panel":4,"series":"Prediction","theta":66,"T":0.139},
      {"panel":4,"series":"Prediction","theta":69,"T":0.127},
      {"panel":4,"series":"Prediction","theta":72,"T":0.113},
      {"panel":4,"series":"Prediction","theta":75,"T":0.093},
      {"panel":4,"series":"Prediction","theta":78,"T":0.07},
      {"panel":4,"series":"Prediction","theta":81,"T":0.048},
      {"panel":4,"series":"Prediction","theta":83,"T":0.036},
      {"panel":4,"series":"Prediction","theta":85,"T":0.025},
      {"panel":4,"series":"Prediction","theta":87,"T":0.015},
      {"panel":4,"series":"Prediction","theta":89,"T":0.0}
    ]
  },
  "columns": 2,
  "spacing": {"row": 31, "column": 64},
  "concat": [
    {
      "width": 812, "height": 544,
      "layer": [
        {"data": {"name": "curves"}, "transform": [{"filter": "datum.panel === 1"}],
         "mark": {"type": "line", "interpolate": "catmull-rom", "strokeWidth": 2.8, "strokeOpacity": 0.8, "clip": true},
         "encoding": {
           "x": {"field": "theta", "type": "quantitative", "scale": {"domain": [-99, 99], "nice": false, "zero": false}, "axis": {"values": [-75, -50, -25, 0, 25, 50, 75], "format": "d", "title": "Theta (°)"}},
           "y": {"field": "T", "type": "quantitative", "scale": {"domain": [0, 1.05], "nice": false}, "axis": {"values": [0, 0.2, 0.4, 0.6, 0.8, 1.0], "format": ".1f", "title": "Transmittivity T"}},
           "color": {"field": "series", "type": "nominal", "scale": {"domain": ["Ground truth", "Prediction"], "range": ["#0000ff", "#ff0000"]}, "legend": {"title": null}}
         }},
        {"data": {"name": "notes"}, "transform": [{"filter": "datum.panel === 1"}],
         "mark": {"type": "rect", "fill": "#f5deb3", "stroke": "#333333", "strokeWidth": 1.8, "cornerRadius": 6},
         "encoding": {"x": {"datum": 47.4}, "x2": {"datum": 91.3}, "y": {"datum": 1.017}, "y2": {"datum": 0.733}}},
        {"data": {"name": "notes"}, "transform": [{"filter": "datum.panel === 1"}],
         "mark": {"type": "text", "align": "left", "baseline": "alphabetic", "fontSize": 27, "fontStyle": "italic", "lineHeight": 33.3, "color": "#111111"},
         "encoding": {"x": {"datum": 50.1}, "y": {"datum": 0.955}, "text": {"field": "sym"}}},
        {"data": {"name": "notes"}, "transform": [{"filter": "datum.panel === 1"}],
         "mark": {"type": "text", "align": "left", "baseline": "alphabetic", "fontSize": 27, "lineHeight": 33.3, "dx": 19, "color": "#111111"},
         "encoding": {"x": {"datum": 50.1}, "y": {"datum": 0.955}, "text": {"field": "eq12"}}},
        {"data": {"name": "notes"}, "transform": [{"filter": "datum.panel === 1"}],
         "mark": {"type": "text", "align": "left", "baseline": "alphabetic", "fontSize": 27, "dx": 9, "color": "#111111"},
         "encoding": {"x": {"datum": 50.1}, "y": {"datum": 0.827}, "text": {"field": "eq3"}}},
        {"data": {"name": "notes"}, "transform": [{"filter": "datum.panel === 1"}],
         "mark": {"type": "text", "align": "left", "baseline": "alphabetic", "fontSize": 27, "color": "#111111"},
         "encoding": {"x": {"datum": 50.1}, "y": {"datum": 0.763}, "text": {"field": "mae"}}}
      ]
    },
    {
      "width": 812, "height": 544,
      "layer": [
        {"data": {"name": "curves"}, "transform": [{"filter": "datum.panel === 2"}],
         "mark": {"type": "line", "interpolate": "catmull-rom", "strokeWidth": 2.8, "strokeOpacity": 0.8, "clip": true},
         "encoding": {
           "x": {"field": "theta", "type": "quantitative", "scale": {"domain": [-99, 99], "nice": false, "zero": false}, "axis": {"values": [-75, -50, -25, 0, 25, 50, 75], "format": "d", "title": "Theta (°)"}},
           "y": {"field": "T", "type": "quantitative", "scale": {"domain": [0, 1.05], "nice": false}, "axis": {"values": [0, 0.2, 0.4, 0.6, 0.8, 1.0], "format": ".1f", "title": "Transmittivity T"}},
           "color": {"field": "series", "type": "nominal", "scale": {"domain": ["Ground truth", "Prediction"], "range": ["#0000ff", "#ff0000"]}, "legend": {"title": null}}
         }},
        {"data": {"name": "notes"}, "transform": [{"filter": "datum.panel === 2"}],
         "mark": {"type": "rect", "fill": "#f5deb3", "stroke": "#333333", "strokeWidth": 1.8, "cornerRadius": 6},
         "encoding": {"x": {"datum": 47.4}, "x2": {"datum": 91.3}, "y": {"datum": 1.017}, "y2": {"datum": 0.733}}},
        {"data": {"name": "notes"}, "transform": [{"filter": "datum.panel === 2"}],
         "mark": {"type": "text", "align": "left", "baseline": "alphabetic", "fontSize": 27, "fontStyle": "italic", "lineHeight": 33.3, "color": "#111111"},
         "encoding": {"x": {"datum": 50.1}, "y": {"datum": 0.955}, "text": {"field": "sym"}}},
        {"data": {"name": "notes"}, "transform": [{"filter": "datum.panel === 2"}],
         "mark": {"type": "text", "align": "left", "baseline": "alphabetic", "fontSize": 27, "lineHeight": 33.3, "dx": 19, "color": "#111111"},
         "encoding": {"x": {"datum": 50.1}, "y": {"datum": 0.955}, "text": {"field": "eq12"}}},
        {"data": {"name": "notes"}, "transform": [{"filter": "datum.panel === 2"}],
         "mark": {"type": "text", "align": "left", "baseline": "alphabetic", "fontSize": 27, "dx": 9, "color": "#111111"},
         "encoding": {"x": {"datum": 50.1}, "y": {"datum": 0.827}, "text": {"field": "eq3"}}},
        {"data": {"name": "notes"}, "transform": [{"filter": "datum.panel === 2"}],
         "mark": {"type": "text", "align": "left", "baseline": "alphabetic", "fontSize": 27, "color": "#111111"},
         "encoding": {"x": {"datum": 50.1}, "y": {"datum": 0.763}, "text": {"field": "mae"}}}
      ]
    },
    {
      "width": 812, "height": 544,
      "layer": [
        {"data": {"name": "curves"}, "transform": [{"filter": "datum.panel === 3"}],
         "mark": {"type": "line", "interpolate": "catmull-rom", "strokeWidth": 2.8, "strokeOpacity": 0.8, "clip": true},
         "encoding": {
           "x": {"field": "theta", "type": "quantitative", "scale": {"domain": [-99, 99], "nice": false, "zero": false}, "axis": {"values": [-75, -50, -25, 0, 25, 50, 75], "format": "d", "title": "Theta (°)"}},
           "y": {"field": "T", "type": "quantitative", "scale": {"domain": [0, 1.05], "nice": false}, "axis": {"values": [0, 0.2, 0.4, 0.6, 0.8, 1.0], "format": ".1f", "title": "Transmittivity T"}},
           "color": {"field": "series", "type": "nominal", "scale": {"domain": ["Ground truth", "Prediction"], "range": ["#0000ff", "#ff0000"]}, "legend": {"title": null}}
         }},
        {"data": {"name": "notes"}, "transform": [{"filter": "datum.panel === 3"}],
         "mark": {"type": "rect", "fill": "#f5deb3", "stroke": "#333333", "strokeWidth": 1.8, "cornerRadius": 6},
         "encoding": {"x": {"datum": 47.4}, "x2": {"datum": 91.3}, "y": {"datum": 1.017}, "y2": {"datum": 0.733}}},
        {"data": {"name": "notes"}, "transform": [{"filter": "datum.panel === 3"}],
         "mark": {"type": "text", "align": "left", "baseline": "alphabetic", "fontSize": 27, "fontStyle": "italic", "lineHeight": 33.3, "color": "#111111"},
         "encoding": {"x": {"datum": 50.1}, "y": {"datum": 0.955}, "text": {"field": "sym"}}},
        {"data": {"name": "notes"}, "transform": [{"filter": "datum.panel === 3"}],
         "mark": {"type": "text", "align": "left", "baseline": "alphabetic", "fontSize": 27, "lineHeight": 33.3, "dx": 19, "color": "#111111"},
         "encoding": {"x": {"datum": 50.1}, "y": {"datum": 0.955}, "text": {"field": "eq12"}}},
        {"data": {"name": "notes"}, "transform": [{"filter": "datum.panel === 3"}],
         "mark": {"type": "text", "align": "left", "baseline": "alphabetic", "fontSize": 27, "dx": 9, "color": "#111111"},
         "encoding": {"x": {"datum": 50.1}, "y": {"datum": 0.827}, "text": {"field": "eq3"}}},
        {"data": {"name": "notes"}, "transform": [{"filter": "datum.panel === 3"}],
         "mark": {"type": "text", "align": "left", "baseline": "alphabetic", "fontSize": 27, "color": "#111111"},
         "encoding": {"x": {"datum": 50.1}, "y": {"datum": 0.763}, "text": {"field": "mae"}}}
      ]
    },
    {
      "width": 812, "height": 544,
      "layer": [
        {"data": {"name": "curves"}, "transform": [{"filter": "datum.panel === 4"}],
         "mark": {"type": "line", "interpolate": "catmull-rom", "strokeWidth": 2.8, "strokeOpacity": 0.8, "clip": true},
         "encoding": {
           "x": {"field": "theta", "type": "quantitative", "scale": {"domain": [-99, 99], "nice": false, "zero": false}, "axis": {"values": [-75, -50, -25, 0, 25, 50, 75], "format": "d", "title": "Theta (°)"}},
           "y": {"field": "T", "type": "quantitative", "scale": {"domain": [0, 1.05], "nice": false}, "axis": {"values": [0, 0.2, 0.4, 0.6, 0.8, 1.0], "format": ".1f", "title": "Transmittivity T"}},
           "color": {"field": "series", "type": "nominal", "scale": {"domain": ["Ground truth", "Prediction"], "range": ["#0000ff", "#ff0000"]}, "legend": {"title": null}}
         }},
        {"data": {"name": "notes"}, "transform": [{"filter": "datum.panel === 4"}],
         "mark": {"type": "rect", "fill": "#f5deb3", "stroke": "#333333", "strokeWidth": 1.8, "cornerRadius": 6},
         "encoding": {"x": {"datum": 47.4}, "x2": {"datum": 91.3}, "y": {"datum": 1.017}, "y2": {"datum": 0.733}}},
        {"data": {"name": "notes"}, "transform": [{"filter": "datum.panel === 4"}],
         "mark": {"type": "text", "align": "left", "baseline": "alphabetic", "fontSize": 27, "fontStyle": "italic", "lineHeight": 33.3, "color": "#111111"},
         "encoding": {"x": {"datum": 50.1}, "y": {"datum": 0.955}, "text": {"field": "sym"}}},
        {"data": {"name": "notes"}, "transform": [{"filter": "datum.panel === 4"}],
         "mark": {"type": "text", "align": "left", "baseline": "alphabetic", "fontSize": 27, "lineHeight": 33.3, "dx": 19, "color": "#111111"},
         "encoding": {"x": {"datum": 50.1}, "y": {"datum": 0.955}, "text": {"field": "eq12"}}},
        {"data": {"name": "notes"}, "transform": [{"filter": "datum.panel === 4"}],
         "mark": {"type": "text", "align": "left", "baseline": "alphabetic", "fontSize": 27, "dx": 9, "color": "#111111"},
         "encoding": {"x": {"datum": 50.1}, "y": {"datum": 0.827}, "text": {"field": "eq3"}}},
        {"data": {"name": "notes"}, "transform": [{"filter": "datum.panel === 4"}],
         "mark": {"type": "text", "align": "left", "baseline": "alphabetic", "fontSize": 27, "color": "#111111"},
         "encoding": {"x": {"datum": 50.1}, "y": {"datum": 0.763}, "text": {"field": "mae"}}}
      ]
    }
  ],
  "resolve": {"scale": {"color": "independent"}, "legend": {"color": "independent"}},
  "config": {
    "font": "DejaVu Sans",
    "view": {"stroke": "#404040", "strokeWidth": 1.6},
    "axis": {
      "domain": false, "grid": false, "ticks": true, "tickColor": "#404040", "tickWidth": 1.6, "tickSize": 8,
      "labelFont": "DejaVu Sans", "labelFontSize": 24.5, "labelColor": "#111111", "labelPadding": 8, "labelFlush": false,
      "titleFont": "DejaVu Sans", "titleFontSize": 27, "titleFontWeight": "normal", "titleColor": "#111111"
    },
    "axisX": {"titlePadding": 9},
    "axisY": {"titlePadding": 12},
    "legend": {
      "orient": "bottom-right", "offset": 14, "padding": 10,
      "labelFont": "DejaVu Sans", "labelFontSize": 27, "labelColor": "#111111", "labelLimit": 400,
      "symbolType": "M-1,0H3", "symbolSize": 841, "symbolStrokeWidth": 3, "symbolOpacity": 0.8,
      "labelOffset": 46, "rowPadding": 12,
      "strokeColor": "#d0d0d0", "fillColor": "rgba(255,255,255,0.8)", "cornerRadius": 5
    }
  }
}
